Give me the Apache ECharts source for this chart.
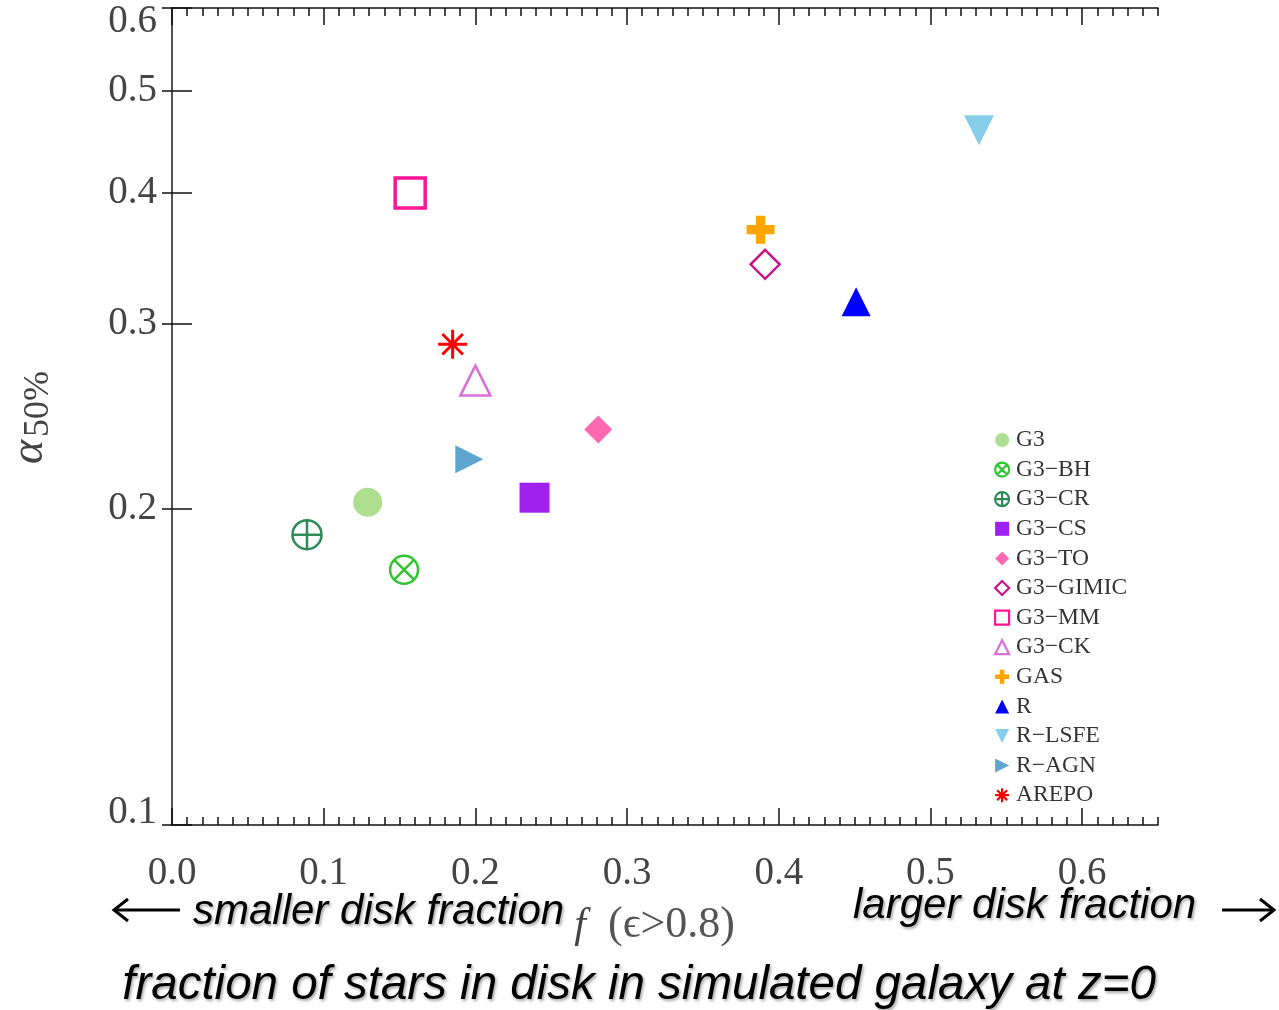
<!DOCTYPE html>
<html>
<head>
<meta charset="utf-8">
<title>Disk fraction vs alpha 50%</title>
<script src="https://cdn.jsdelivr.net/npm/echarts@6/dist/echarts.min.js"></script>
<style>
  html, body { margin: 0; padding: 0; background: #ffffff; }
  #chart { width: 1279px; height: 1010px; }
</style>
</head>
<body>
<div id="chart"></div>
<script>
// Simulation runs, their disk fraction f(eps>0.8) and alpha_50%
const simNames = ['G3', 'G3−BH', 'G3−CR', 'G3−CS', 'G3−TO', 'G3−GIMIC', 'G3−MM',
                  'G3−CK', 'GAS', 'R', 'R−LSFE', 'R−AGN', 'AREPO'];
const diskFraction = [0.129, 0.153, 0.089, 0.239, 0.281, 0.391, 0.157,
                      0.200, 0.388, 0.451, 0.532, 0.196, 0.185];
const alpha50 = [0.203, 0.175, 0.189, 0.205, 0.238, 0.342, 0.400,
                 0.265, 0.369, 0.315, 0.459, 0.223, 0.287];

// Tick labels
const xTickValues = [0.0, 0.1, 0.2, 0.3, 0.4, 0.5, 0.6];
const yTickValues = [0.1, 0.2, 0.3, 0.4, 0.5, 0.6];

// Marker shapes
const CIRCLE = 'M0,-1 A1,1 0 1,1 0,1 A1,1 0 1,1 0,-1 Z ';
const circleCross = 'path://' + CIRCLE + 'M-0.707,-0.707 L0.707,0.707 M0.707,-0.707 L-0.707,0.707';
const circlePlus = 'path://' + CIRCLE + 'M-1,0 L1,0 M0,-1 L0,1';
const asterisk = 'path://M-1,0 L1,0 M0,-1 L0,1 M-0.707,-0.707 L0.707,0.707 M0.707,-0.707 L-0.707,0.707';
const thickPlus = 'path://M-0.33,-1 L0.33,-1 L0.33,-0.33 L1,-0.33 L1,0.33 L0.33,0.33 L0.33,1 L-0.33,1 L-0.33,0.33 L-1,0.33 L-1,-0.33 L-0.33,-0.33 Z';
const triDown = 'path://M-1,-1 L1,-1 L0,1 Z';
const triRight = 'path://M-1,-1 L1,0 L-1,1 Z';
const NONE = 'rgba(0,0,0,0)';

const markerStyles = [
  { symbol: 'circle', size: 29, fill: '#addf8f' },
  { symbol: circleCross, size: 28, fill: NONE, stroke: '#33c433', width: 2.5 },
  { symbol: circlePlus, size: 29, fill: NONE, stroke: '#2e8b57', width: 2.5 },
  { symbol: 'rect', size: 30, fill: '#a020f0' },
  { symbol: 'diamond', size: 28, fill: '#ff69b4' },
  { symbol: 'diamond', size: 29, fill: NONE, stroke: '#c71585', width: 2.5 },
  { symbol: 'rect', size: 30, fill: NONE, stroke: '#ff1493', width: 3.5 },
  { symbol: 'triangle', size: 30, fill: NONE, stroke: '#da70d6', width: 2.5 },
  { symbol: thickPlus, size: 28, fill: '#ffa500' },
  { symbol: 'triangle', size: 29, fill: '#0000ff' },
  { symbol: 'triangle', size: 30, fill: '#87ceeb', rotate: 180, icon: triDown },
  { symbol: 'triangle', size: 28, fill: '#5ea5cf', rotate: -90, icon: triRight },
  { symbol: asterisk, size: 29, fill: NONE, stroke: '#ff0000', width: 3 }
];

const serif = '"Liberation Serif", "DejaVu Serif", serif';
const sans = '"Liberation Sans", Arial, sans-serif';
const axisColor = '#111';

const series = simNames.map((name, i) => {
  const m = markerStyles[i];
  return {
    name: name,
    type: 'scatter',
    xAxisIndex: 0,
    yAxisIndex: 0,
    symbol: m.symbol,
    symbolSize: m.size,
    symbolRotate: m.rotate || 0,
    itemStyle: {
      color: m.fill,
      borderColor: m.stroke || m.fill,
      borderWidth: m.stroke ? m.width : 0,
      opacity: 1
    },
    emphasis: { disabled: true },
    data: [[diskFraction[i], alpha50[i]]]
  };
});

// Legend entries: thinner outlines, rotated markers get an explicit icon
const legendData = simNames.map((name, i) => {
  const m = markerStyles[i];
  const item = {
    name: name,
    itemStyle: { borderWidth: m.stroke ? Math.min(m.width, 2.2) : 0 }
  };
  if (m.icon) item.icon = m.icon;
  return item;
});

function xAxisDef(position, major) {
  return {
    type: 'value',
    position: position,
    min: 0,
    max: 0.65,
    interval: major ? 0.1 : 0.01,
    axisLine: { show: major, lineStyle: { color: axisColor, width: 1.5 } },
    axisTick: major
      ? { show: true, inside: true, length: 17, customValues: xTickValues, lineStyle: { color: axisColor, width: 1.5 } }
      : { show: true, inside: true, length: 8, lineStyle: { color: axisColor, width: 1.5 } },
    axisLabel: (major && position === 'bottom')
      ? { show: true, customValues: xTickValues, formatter: v => v.toFixed(1),
          fontFamily: serif, fontSize: 39, color: '#444', margin: 29 }
      : { show: false },
    splitLine: { show: false }
  };
}

// the end labels of the y axis sit just inside the frame
function yLabel(v) {
  const s = Number(v).toFixed(1);
  if (Math.abs(v - yTickValues[yTickValues.length - 1]) < 1e-9) return '{top|' + s + '}';
  if (Math.abs(v - yTickValues[0]) < 1e-9) return '{bottom|' + s + '}';
  return s;
}

function yAxisDef(position, tickLen, showLabels) {
  return {
    type: 'log',
    logBase: 10,
    position: position,
    min: 0.1,
    max: 0.6,
    axisLine: { show: true, lineStyle: { color: position === 'left' ? axisColor : '#555', width: 1.5 } },
    axisTick: { show: true, inside: true, length: tickLen, customValues: yTickValues,
                lineStyle: { color: axisColor, width: 1.5 } },
    axisLabel: showLabels
      ? { show: true, customValues: yTickValues, formatter: yLabel,
          fontFamily: serif, fontSize: 39, color: '#444', margin: 15,
          rich: {
            top: { fontFamily: serif, fontSize: 39, color: '#444', padding: [28, 0, 0, 0] },
            bottom: { fontFamily: serif, fontSize: 39, color: '#444', padding: [0, 0, 24, 0] }
          } }
      : { show: false },
    minorTick: { show: false },
    splitLine: { show: false }
  };
}

const option = {
  backgroundColor: '#ffffff',
  animation: false,
  grid: { left: 172, top: 8, width: 986, height: 817, containLabel: false, outerBoundsMode: 'none' },
  xAxis: [
    xAxisDef('bottom', true),
    xAxisDef('bottom', false),
    xAxisDef('top', true),
    xAxisDef('top', false)
  ],
  yAxis: [
    yAxisDef('left', 20, true),
    yAxisDef('right', 10, false)
  ],
  legend: {
    orient: 'vertical',
    left: 989,
    top: 423,
    itemWidth: 14,
    itemHeight: 14,
    itemGap: 5.6,
    selectedMode: false,
    textStyle: { fontFamily: serif, fontSize: 23.5, color: '#333', padding: [0, 0, 0, 2] },
    data: legendData
  },
  graphic: [
    // y axis title: alpha with subscript 50%
    { type: 'text', x: 30, y: 452, rotation: Math.PI / 2,
      style: { text: 'α', font: 'italic 46px ' + serif, fill: '#444', align: 'center', verticalAlign: 'middle' } },
    { type: 'text', x: 39, y: 404, rotation: Math.PI / 2,
      style: { text: '50%', font: '36px ' + serif, fill: '#444', align: 'center', verticalAlign: 'middle' } },
    // x axis title
    { type: 'text', x: 580, y: 926,
      style: { text: 'f', font: 'italic 42px ' + serif, fill: '#444', align: 'center', verticalAlign: 'middle' } },
    { type: 'text', x: 608, y: 925,
      style: { text: '(ϵ>0.8)', font: '44px ' + serif, fill: '#555', align: 'left', verticalAlign: 'middle' } },
    // annotations
    { type: 'text', x: 193, y: 912,
      style: { text: 'smaller disk fraction', font: 'italic 42px ' + sans, fill: '#000', align: 'left', verticalAlign: 'middle',
               textShadowColor: 'rgba(0,0,0,0.35)', textShadowBlur: 3, textShadowOffsetX: 1.5, textShadowOffsetY: 2 } },
    { type: 'text', x: 853, y: 906,
      style: { text: 'larger disk fraction', font: 'italic 42px ' + sans, fill: '#000', align: 'left', verticalAlign: 'middle',
               textShadowColor: 'rgba(0,0,0,0.35)', textShadowBlur: 3, textShadowOffsetX: 1.5, textShadowOffsetY: 2 } },
    { type: 'text', x: 639, y: 986,
      style: { text: 'fraction of stars in disk in simulated galaxy at z=0', font: 'italic 47.5px ' + sans, fill: '#000',
               align: 'center', verticalAlign: 'middle',
               textShadowColor: 'rgba(0,0,0,0.35)', textShadowBlur: 3, textShadowOffsetX: 1.5, textShadowOffsetY: 2 } },
    // left arrow
    { type: 'line', shape: { x1: 114, y1: 910, x2: 180, y2: 910 }, style: { stroke: '#000', lineWidth: 3 } },
    { type: 'polyline', shape: { points: [[128, 899], [114, 910], [128, 921]] }, style: { stroke: '#000', lineWidth: 3, fill: null } },
    // right arrow
    { type: 'line', shape: { x1: 1222, y1: 910, x2: 1274, y2: 910 }, style: { stroke: '#000', lineWidth: 3 } },
    { type: 'polyline', shape: { points: [[1260, 899], [1274, 910], [1260, 921]] }, style: { stroke: '#000', lineWidth: 3, fill: null } }
  ],
  series: series
};

const chart = echarts.init(document.getElementById('chart'), null, { renderer: 'canvas' });
chart.setOption(option);
</script>
</body>
</html>
